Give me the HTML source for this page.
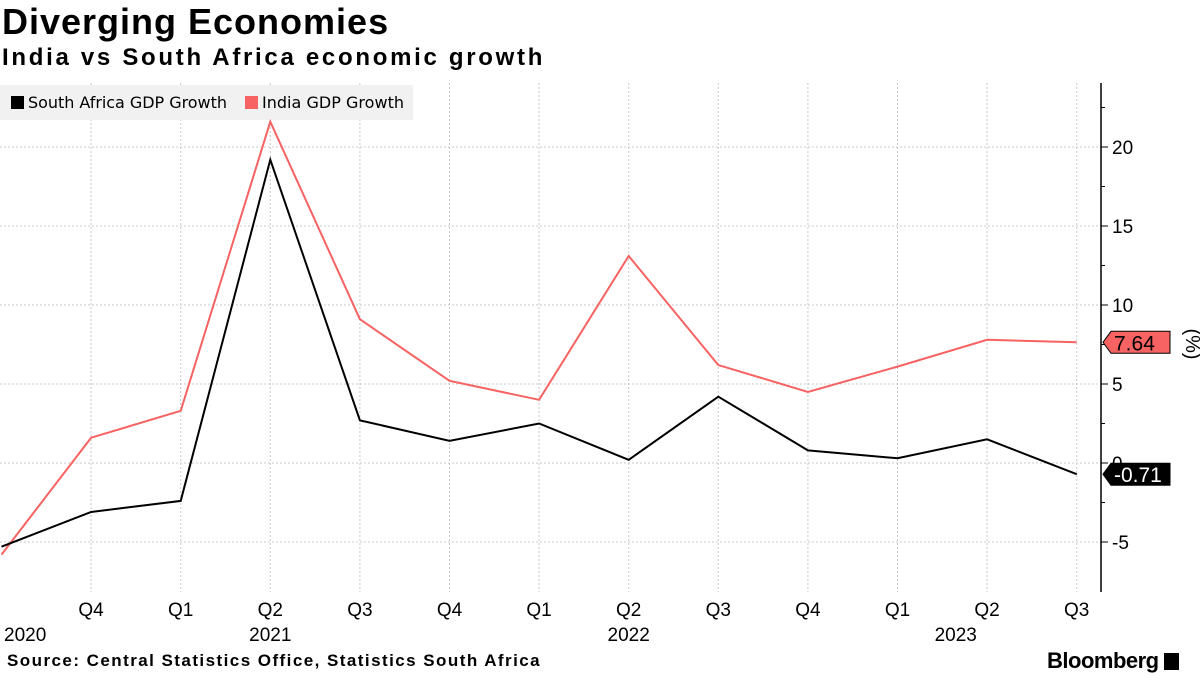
<!DOCTYPE html>
<html><head><meta charset="utf-8"><style>
body{margin:0;background:#fff;font-family:"Liberation Sans",sans-serif;}
#wrap{position:relative;width:1200px;height:675px;overflow:hidden;}
.t{position:absolute;white-space:nowrap;}
</style></head><body>
<div id="wrap">
<div class="t" style="left:2px;top:1px;font-size:36px;font-weight:bold;letter-spacing:1px;">Diverging Economies</div>
<div class="t" style="left:2px;top:44px;font-size:24px;font-weight:bold;letter-spacing:2.7px;">India vs South Africa economic growth</div>
<svg id="svg" width="1200" height="675" style="position:absolute;left:0;top:0"></svg>
<div class="t" style="left:7px;top:651px;font-size:17px;font-weight:bold;letter-spacing:1.45px;">Source: Central Statistics Office, Statistics South Africa</div>
<div class="t" style="left:1047px;top:648px;font-size:22px;font-weight:bold;letter-spacing:-0.5px;">Bloomberg <span style="display:inline-block;width:15px;height:17px;background:#000;vertical-align:-2px;"></span></div>
</div>
<script>
const quarters=["Q3","Q4","Q1","Q2","Q3","Q4","Q1","Q2","Q3","Q4","Q1","Q2","Q3"];
const years=[["2020",0],["2021",3],["2022",7],["2023",10.65]];
const india=[-5.8,1.6,3.3,21.6,9.1,5.2,4.0,13.1,6.2,4.5,6.1,7.8,7.64];
const southAfrica=[-5.3,-3.1,-2.4,19.2,2.7,1.4,2.5,0.2,4.2,0.8,0.3,1.5,-0.71];
const yTicks=[-5,0,5,10,15,20];
const NS="http://www.w3.org/2000/svg";
const svg=document.getElementById('svg');
const X0=1.5,DX=89.6,Y0=463,SY=15.8,TOP=83,BOT=592,AX=1101;
const x=i=>X0+i*DX, y=v=>Y0-v*SY;
function el(t,a,p){const e=document.createElementNS(NS,t);for(const k in a)e.setAttribute(k,a[k]);(p||svg).appendChild(e);return e;}
yTicks.forEach(v=>{
const g=el('line',{x1:0,x2:AX,y1:y(v),y2:y(v),stroke:'#c8c8c8','stroke-dasharray':'2,2'});


const t=el('text',{x:AX+11,y:y(v)+7,'font-size':19,'font-family':'Liberation Sans, sans-serif'});t.textContent=v;


el('line',{x1:AX,x2:AX+7,y1:y(v),y2:y(v),stroke:'#000'});
el('line',{x1:AX,x2:AX+4,y1:y(v+2.5),y2:y(v+2.5),stroke:'#000'});
});
quarters.forEach((q,i)=>{
if(i>0){const g=el('line',{x1:x(i),x2:x(i),y1:TOP,y2:BOT,stroke:'#c8c8c8','stroke-dasharray':'2,2'});


const t=el('text',{x:x(i),y:616,'font-size':19,'text-anchor':'middle','font-family':'Liberation Sans, sans-serif'});t.textContent=q;

}
});
years.forEach(([yr,i])=>{const t=el('text',{x:i==0?4:x(i),y:641,'font-size':19,'text-anchor':i==0?'start':'middle','font-family':'Liberation Sans, sans-serif'});t.textContent=yr;

});
el('line',{x1:AX,x2:AX,y1:TOP,y2:BOT,stroke:'#000','stroke-width':1.5});
const lg=el('rect',{x:0,y:85,width:413,height:35,fill:'#f1f1f1'});


el('rect',{x:11,y:96,width:13,height:13,fill:'#000'});
let t1=el('text',{x:28,y:108,'font-size':16,'font-family':'DejaVu Sans, sans-serif',textLength:199});t1.textContent='South Africa GDP Growth';


el('rect',{x:245,y:96,width:13,height:13,fill:'#f76262'});
let t2=el('text',{x:262,y:108,'font-size':16,'font-family':'DejaVu Sans, sans-serif',textLength:142});t2.textContent='India GDP Growth';


function line(d,c,n){const p=el('polyline',{points:d.map((v,i)=>x(i)+','+y(v)).join(' '),fill:'none',stroke:c,'stroke-width':2});

}
line(india,'#f76262','india-line');
line(southAfrica,'#000','south-africa-line');
function tag(v,bg,fg,n){const yy=y(v);const g=el('g',{});


el('path',{d:`M${AX+2},${yy} L${AX+10},${yy-11} H${AX+69} V${yy+11} H${AX+10} Z`,fill:bg,stroke:'#000','stroke-width':1},g);
const t=el('text',{x:AX+13,y:yy+8,'font-size':21,fill:fg,'font-family':'Liberation Sans, sans-serif'},g);t.textContent=v.toFixed(2);}
tag(india[india.length-1],'#f76262','#000','india-last-value');
tag(southAfrica[southAfrica.length-1],'#000','#fff','south-africa-last-value');
const u=el('text',{x:1186,y:344,'font-size':20,'text-anchor':'middle',transform:'rotate(90 1186 344)','font-family':'Liberation Sans, sans-serif'});u.textContent='(%)';


</script>
</body></html>
